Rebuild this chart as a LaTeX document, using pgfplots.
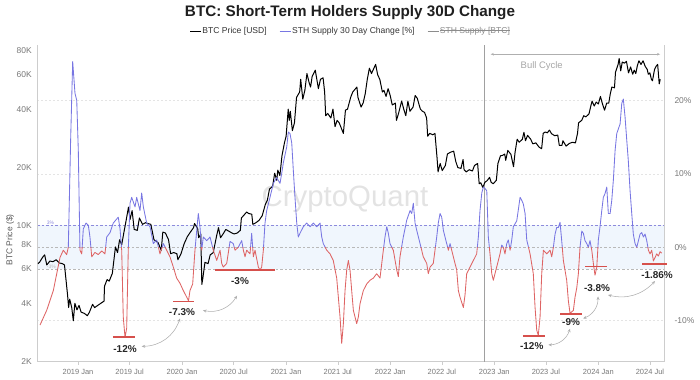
\documentclass[border=0pt]{standalone}
\usepackage{pgfplots}
\pgfplotsset{compat=1.18}
\usepackage{pgfplotstable}
\usepackage{fontspec}
\setmainfont{Liberation Sans}
\usetikzlibrary{arrows.meta}

\newcommand\strike[1]{{\setbox0\hbox{#1}\rlap{\rule[0.55ex]{\wd0}{0.5bp}}\box0}}

\definecolor{stpurple}{RGB}{120,118,226}
\definecolor{stred}{RGB}{222,100,100}
\definecolor{barred}{RGB}{214,80,76}
\definecolor{bandblue}{RGB}{240,246,253}
\definecolor{bandpurple}{RGB}{140,138,220}
\definecolor{bandgray}{RGB}{185,185,185}
\definecolor{gridgray}{RGB}{228,228,228}
\definecolor{axisgray}{RGB}{205,205,205}
\definecolor{ticktext}{RGB}{120,120,120}
\definecolor{arrowgray}{RGB}{175,175,175}
\definecolor{bullgray}{RGB}{160,160,160}

\pgfplotstableread{
t p
2018.615 6400
2018.63 6500
2018.66 6900
2018.68 7100
2018.70 6300
2018.73 6600
2018.76 6550
2018.79 6700
2018.82 6450
2018.85 6400
2018.87 6300
2018.88 5600
2018.90 4400
2018.91 3800
2018.92 4200
2018.94 3800
2018.955 3250
2018.97 4000
2018.99 3700
2019.01 3900
2019.03 3600
2019.06 3550
2019.09 3450
2019.11 3600
2019.14 3950
2019.16 3800
2019.19 3900
2019.22 4000
2019.25 4100
2019.255 4900
2019.28 5300
2019.30 5200
2019.33 5700
2019.36 7800
2019.38 7300
2019.40 8500
2019.42 8000
2019.44 9200
2019.46 10500
2019.485 12500
2019.50 10800
2019.52 12000
2019.54 9600
2019.57 9500
2019.59 11000
2019.62 10200
2019.65 10400
2019.67 10300
2019.70 10200
2019.73 8500
2019.77 8200
2019.80 7500
2019.815 9300
2019.84 9200
2019.87 8500
2019.89 7200
2019.92 7300
2019.95 7200
2019.96 6700
2019.99 7200
2020.02 8100
2020.05 8800
2020.08 9300
2020.11 9800
2020.12 10300
2020.15 9700
2020.16 8700
2020.18 9100
2020.19 5000
2020.20 5400
2020.22 6500
2020.25 6400
2020.27 7100
2020.30 7300
2020.33 8800
2020.35 9800
2020.37 8700
2020.40 9200
2020.42 9600
2020.45 9400
2020.48 9200
2020.50 9100
2020.53 9200
2020.56 9500
2020.57 11000
2020.59 11300
2020.62 11800
2020.64 11600
2020.67 11500
2020.68 10200
2020.71 10400
2020.74 10700
2020.77 11300
2020.80 12900
2020.82 13600
2020.84 15500
2020.87 16000
2020.89 18700
2020.91 17200
2020.92 19400
2020.94 18200
2020.96 23000
2020.985 27000
2021.00 29000
2021.02 40000
2021.03 35000
2021.04 39000
2021.06 31000
2021.08 34000
2021.10 46000
2021.13 49000
2021.14 57000
2021.16 45000
2021.18 50000
2021.20 61000
2021.22 55000
2021.235 52000
2021.25 59000
2021.28 63500
2021.31 51000
2021.33 57000
2021.355 58000
2021.37 49000
2021.38 37000
2021.40 38000
2021.43 36000
2021.45 40000
2021.47 32500
2021.49 35000
2021.51 34000
2021.55 30000
2021.57 39500
2021.59 40000
2021.62 46000
2021.64 49000
2021.68 52000
2021.69 46000
2021.72 41000
2021.74 43000
2021.76 48000
2021.78 57000
2021.80 65000
2021.82 61000
2021.86 68000
2021.88 60000
2021.90 57000
2021.925 49000
2021.94 50000
2021.96 46500
2021.98 51000
2022.00 47000
2022.02 42000
2022.05 43000
2022.06 35000
2022.08 38000
2022.11 44000
2022.13 40000
2022.15 37000
2022.17 44000
2022.19 39000
2022.22 41000
2022.24 47000
2022.26 45500
2022.29 40000
2022.31 39000
2022.33 38500
2022.35 36000
2022.36 29000
2022.38 30000
2022.41 29500
2022.43 30000
2022.45 22500
2022.46 19000
2022.48 21000
2022.50 19300
2022.53 20500
2022.55 23500
2022.58 24000
2022.61 24300
2022.63 21500
2022.65 20000
2022.68 19800
2022.70 22000
2022.71 19500
2022.73 19000
2022.76 19500
2022.79 19200
2022.81 20500
2022.84 21000
2022.855 16500
2022.87 16700
2022.89 15800
2022.91 16800
2022.93 17100
2022.955 17800
2022.97 16800
2022.99 16500
2023.02 17200
2023.035 21000
2023.06 23000
2023.08 23100
2023.10 23500
2023.11 21800
2023.13 24500
2023.16 23400
2023.185 20200
2023.20 24000
2023.22 28000
2023.24 27000
2023.27 28000
2023.285 30400
2023.30 27500
2023.32 29300
2023.35 28000
2023.37 26500
2023.40 26800
2023.43 25500
2023.455 25000
2023.47 30000
2023.49 30500
2023.51 30200
2023.53 31200
2023.55 29900
2023.58 29200
2023.61 29400
2023.625 26000
2023.65 26000
2023.66 27500
2023.69 25800
2023.72 26600
2023.75 27000
2023.78 26800
2023.80 30000
2023.81 34000
2023.84 35000
2023.86 37000
2023.88 36500
2023.91 37800
2023.93 42000
2023.94 44000
2023.96 41500
2023.98 43500
2024.00 42500
2024.02 46500
2024.04 42500
2024.06 39500
2024.08 43000
2024.10 43000
2024.115 48000
2024.13 52000
2024.155 51500
2024.165 62000
2024.19 68000
2024.20 73000
2024.215 63000
2024.23 70000
2024.25 69000
2024.27 70500
2024.29 61500
2024.31 66000
2024.33 60500
2024.345 63500
2024.36 61000
2024.375 67000
2024.39 71000
2024.41 68000
2024.43 71000
2024.45 66500
2024.47 64000
2024.48 60500
2024.495 61500
2024.51 57000
2024.52 56000
2024.54 64000
2024.555 66500
2024.57 68000
2024.585 54000
2024.595 57000
}\pricedata

\pgfplotstableread{
t v
2018.635 -10.6
2018.699 -8.6
2018.763 -5.9
2018.827 -1.4
2018.859 -0.4
2018.891 -1.0
2018.907 0
2018.930 15
2018.949 25.3
2018.971 21
2018.988 20
2019.003 13.2
2019.019 -0.4
2019.036 -0.9
2019.051 2.5
2019.077 3.3
2019.099 3.0
2019.115 1.4
2019.132 -1.3
2019.163 -0.7
2019.195 -1.0
2019.228 -0.5
2019.259 -0.9
2019.276 1.4
2019.308 2.0
2019.339 3.3
2019.387 4.1
2019.404 2.5
2019.420 -0.4
2019.435 -9.5
2019.452 -12.3
2019.468 -11
2019.483 -0.4
2019.500 6.0
2019.516 6.8
2019.548 5.5
2019.564 6.8
2019.596 5.0
2019.612 7.4
2019.628 5.5
2019.660 3.3
2019.692 2.8
2019.724 0.5
2019.756 1.0
2019.788 -0.9
2019.820 0.5
2019.852 -0.4
2019.884 -1.3
2019.916 -2.7
2019.948 -4.2
2019.980 -4.9
2020.012 -5.9
2020.045 -6.8
2020.062 -7.3
2020.076 -5.9
2020.102 -5.0
2020.124 -0.4
2020.141 2.3
2020.156 4.6
2020.172 2.8
2020.189 -0.4
2020.204 1.4
2020.237 0.9
2020.269 1.4
2020.300 -0.4
2020.333 -1.8
2020.365 -0.4
2020.381 -2.2
2020.396 -2.7
2020.429 -2.2
2020.461 0.8
2020.492 0.5
2020.509 -0.4
2020.540 0
2020.573 0.9
2020.589 -0.4
2020.605 -1.3
2020.621 -0.4
2020.653 -0.9
2020.669 1.9
2020.685 -1.3
2020.701 -0.4
2020.733 -2.7
2020.749 -3.1
2020.765 -2.7
2020.781 -0.4
2020.797 3.3
2020.813 5.0
2020.845 6.8
2020.877 8.7
2020.909 9.5
2020.941 8.7
2020.958 10.1
2020.973 11.5
2021.006 13.7
2021.021 15.7
2021.037 15.5
2021.054 14.2
2021.069 10.5
2021.085 6.8
2021.102 3.3
2021.117 1.4
2021.133 1.9
2021.165 2.8
2021.198 3.3
2021.230 2.8
2021.261 3.3
2021.294 2.8
2021.326 3.3
2021.342 1.4
2021.357 0.5
2021.390 -0.4
2021.422 -0.9
2021.453 -1.8
2021.486 -4.2
2021.518 -9.5
2021.534 -13.1
2021.550 -10.4
2021.566 -5.9
2021.582 -3.1
2021.598 -1.8
2021.614 -3.1
2021.630 -5.9
2021.646 -8.6
2021.678 -10.4
2021.694 -9.5
2021.710 -7.7
2021.742 -5.9
2021.774 -5.0
2021.806 -4.5
2021.838 -4.2
2021.870 -3.6
2021.902 -4.2
2021.934 -0.4
2021.950 1.4
2021.967 2.8
2021.982 1.9
2021.998 0.5
2022.030 -0.4
2022.063 -3.1
2022.078 -4.0
2022.094 -1.3
2022.126 1.4
2022.159 3.7
2022.191 5.0
2022.207 4.6
2022.222 6.0
2022.239 3.3
2022.255 2.3
2022.287 0.5
2022.318 -1.3
2022.351 -2.2
2022.366 -3.6
2022.383 -2.7
2022.414 -2.2
2022.447 1.4
2022.462 3.3
2022.479 4.6
2022.495 4.1
2022.511 2.3
2022.543 0.5
2022.559 -0.4
2022.575 0.5
2022.591 -0.4
2022.607 -1.3
2022.639 -3.1
2022.655 -5.9
2022.671 -6.8
2022.703 -8.2
2022.719 -6.5
2022.735 -3.6
2022.767 -2.7
2022.799 -1.8
2022.831 -0.9
2022.847 1.4
2022.863 5.0
2022.880 7.4
2022.895 8.2
2022.911 8.0
2022.928 7.7
2022.943 1.4
2022.959 -0.9
2022.976 -3.6
2022.991 -4.5
2023.007 -3.6
2023.039 -1.8
2023.055 -0.9
2023.072 0.3
2023.087 0
2023.103 -0.9
2023.120 0.5
2023.135 1.0
2023.152 -0.4
2023.168 1.0
2023.183 2.8
2023.216 3.6
2023.248 6.8
2023.264 6.4
2023.279 5.9
2023.296 4.6
2023.312 1.0
2023.344 -0.9
2023.375 -3.6
2023.392 -8.2
2023.408 -11.3
2023.423 -12.0
2023.440 -9.5
2023.456 -3.6
2023.472 -0.4
2023.504 -0.9
2023.536 -0.4
2023.552 -1.3
2023.568 0
2023.584 1.8
2023.600 2.7
2023.616 2.7
2023.632 3.4
2023.648 0.9
2023.664 -1.8
2023.696 -4.5
2023.712 -7.3
2023.728 -9.0
2023.760 -8.6
2023.776 -6.8
2023.793 -5.5
2023.808 -3.6
2023.824 0
2023.841 2.2
2023.856 1.9
2023.872 0.9
2023.889 0.5
2023.904 0
2023.920 0.9
2023.937 -0.4
2023.952 -2.2
2023.968 -3.8
2023.985 -2.7
2024.000 1.0
2024.016 2.8
2024.033 5.0
2024.048 6.8
2024.064 7.3
2024.081 8.2
2024.096 4.6
2024.113 4.6
2024.129 6.4
2024.144 9.1
2024.161 13.2
2024.177 15.5
2024.209 16.8
2024.225 19.6
2024.240 20.2
2024.257 17.7
2024.273 14.6
2024.288 11.8
2024.305 7.7
2024.321 4.6
2024.336 1.8
2024.353 0.5
2024.369 0
2024.385 0.9
2024.401 1.8
2024.417 2.0
2024.433 1.4
2024.449 1.8
2024.465 0.9
2024.481 -0.4
2024.497 -0.9
2024.513 -0.4
2024.529 -1.86
2024.545 -1.4
2024.561 -0.9
2024.577 -1.2
2024.593 -0.6
2024.609 -0.8
}\sthdata

\pgfplotsset{
  base/.style={scale only axis, width=626.7bp, height=316.7bp,
    at={(0bp,0bp)}, anchor=south west, xmin=2018.609, xmax=2024.631},
}

\begin{document}
\begin{tikzpicture}
\path[use as bounding box] (-37.3bp,-18.3bp) rectangle (662.7bp,361.7bp);

% watermark
\node[text=black!11, font=\fontsize{29.5}{32}\selectfont] at (307.7bp,162bp) {CryptoQuant};

% background axis: percent scale, band, grid, x ticks
\begin{axis}[base, ymin=-15.59, ymax=27.56,
  axis y line*=right, axis x line*=bottom,
  axis line style={draw=axisgray, line width=0.7bp, -},
  ytick={-10,0,10,20}, yticklabels={-10\%,0\%,10\%,20\%},
  ymajorgrids, grid style={gridgray, dash pattern=on 2bp off 2bp, line width=0.5bp},
  xtick={2019,2019.496,2020,2020.496,2021,2021.496,2022,2022.496,2023,2023.496,2024,2024.496},
  xticklabels={2019 Jan,2019 Jul,2020 Jan,2020 Jul,2021 Jan,2021 Jul,2022 Jan,2022 Jul,2023 Jan,2023 Jul,2024 Jan,2024 Jul},
  tick label style={font=\fontsize{7.5}{9}\selectfont, text=ticktext},
  yticklabel style={font=\fontsize{8.5}{10}\selectfont, xshift=4bp},
  ytick style={draw=none}, xtick style={draw=axisgray, line width=0.5bp},
  major tick length=3bp, tick align=outside,
  xticklabel style={yshift=-1bp},
]
\fill[bandblue] (axis cs:2018.609,-3) rectangle (axis cs:2024.631,3);
\draw[bandpurple, line width=0.6bp, dash pattern=on 2.5bp off 2bp] (axis cs:2018.609,3) -- (axis cs:2024.631,3);
\draw[bandgray, line width=0.6bp, dash pattern=on 2.5bp off 2bp] (axis cs:2018.609,0) -- (axis cs:2024.631,0);
\draw[bandgray, line width=0.6bp, dash pattern=on 2.5bp off 2bp] (axis cs:2018.609,-3) -- (axis cs:2024.631,-3);
\node[text=bandpurple, font=\fontsize{5}{6}\selectfont, anchor=south west, inner sep=1bp] at (axis cs:2018.69,3) {3\%};
\node[text=bandgray, font=\fontsize{5}{6}\selectfont, anchor=south west, inner sep=1bp] at (axis cs:2018.69,-3) {-3\%};
% bull cycle
\draw[bullgray, line width=0.7bp] (axis cs:2022.905,-15.59) -- (axis cs:2022.905,27.56);
\draw[arrowgray, line width=0.5bp, {Stealth[length=3bp,width=2.5bp]}-{Stealth[length=3bp,width=2.5bp]}] (axis cs:2022.966,26.3) -- (axis cs:2024.593,26.3);
\node[text=black!35, font=\fontsize{9.5}{11}\selectfont] at (axis cs:2023.456,24.7) {Bull Cycle};
\end{axis}

% price axis
\begin{axis}[base, ymode=log, ymin=2000, ymax=85600,
  axis y line*=left, hide x axis,
  axis line style={draw=axisgray, line width=0.7bp, -},
  ytick={2000,4000,6000,8000,10000,20000,40000,60000,80000},
  yticklabels={2K,4K,6K,8K,10K,20K,40K,60K,80K},
  minor ytick={}, tick style={draw=none},
  yticklabel style={font=\fontsize{8.5}{10}\selectfont, text=ticktext, xshift=-2bp},
]
\addplot[black, line width=1bp, line join=round] table[x=t, y=p] {\pricedata};
\end{axis}

% STH above zero (purple): axis box covers 0..27.56 only, so the line is clipped at 0
\begin{axis}[scale only axis, width=626.7bp, height=202.27bp,
  at={(0bp,114.43bp)}, anchor=south west, xmin=2018.609, xmax=2024.631,
  ymin=0, ymax=27.56, hide axis]
\addplot[stpurple, line width=0.85bp, line join=round] table[x=t, y=v] {\sthdata};
\end{axis}
% STH below zero (red): axis box covers -15.59..0 only
\begin{axis}[scale only axis, width=626.7bp, height=114.43bp,
  at={(0bp,0bp)}, anchor=south west, xmin=2018.609, xmax=2024.631,
  ymin=-15.59, ymax=0, hide axis]
\addplot[stred, line width=0.85bp, line join=round] table[x=t, y=v] {\sthdata};
\end{axis}

% annotations
\begin{axis}[base, ymin=-15.59, ymax=27.56, hide axis, clip=false]
\tikzset{bar/.style={barred, line width=1.6bp},
  lab/.style={font=\bfseries\fontsize{10}{11}\selectfont, text=black!85},
  arr/.style={arrowgray, line width=0.55bp, {Stealth[length=3.5bp,width=3bp]}-{Stealth[length=3.5bp,width=3bp]}}}

\draw[bar] (axis cs:2019.336,-12.2) -- (axis cs:2019.548,-12.2);
\node[lab] at (axis cs:2019.452,-13.8) {-12\%};
\draw[arr] (axis cs:2019.612,-13.5) to[bend right=35] (axis cs:2019.980,-9.7);

\draw[bar] (axis cs:2019.913,-7.4) -- (axis cs:2020.115,-7.4);
\node[lab] at (axis cs:2019.999,-8.8) {-7.3\%};
\draw[arr] (axis cs:2020.201,-8.6) to[bend right=35] (axis cs:2020.528,-6.6);

\draw[bar] (axis cs:2020.317,-3.1) -- (axis cs:2020.893,-3.1);
\node[lab] at (axis cs:2020.557,-4.6) {-3\%};

\draw[bar] (axis cs:2023.276,-12.1) -- (axis cs:2023.488,-12.1);
\node[lab] at (axis cs:2023.360,-13.5) {-12\%};
\draw[arr] (axis cs:2023.520,-13.3) to[bend right=35] (axis cs:2023.728,-11.1);

\draw[bar] (axis cs:2023.632,-9.1) -- (axis cs:2023.843,-9.1);
\node[lab] at (axis cs:2023.738,-10.2) {-9\%};
\draw[arr] (axis cs:2023.853,-9.7) to[bend right=35] (axis cs:2023.997,-6.7);

\draw[bar] (axis cs:2023.872,-2.6) -- (axis cs:2024.083,-2.6);
\node[lab] at (axis cs:2023.988,-5.5) {-3.8\%};
\draw[arr] (axis cs:2024.093,-6.5) to[bend right=30] (axis cs:2024.545,-4.6);

\draw[bar] (axis cs:2024.420,-2.3) -- (axis cs:2024.660,-2.3);
\node[lab] at (axis cs:2024.564,-3.8) {-1.86\%};
\end{axis}

% title, legend, y label
\node[font=\bfseries\fontsize{15.3}{18}\selectfont, text=black!88] at (312.7bp,349.3bp) {BTC: Short-Term Holders Supply 30D Change};
\node[font=\fontsize{8.6}{10}\selectfont, text=black!80] at (312.7bp,330.7bp) {%
  {\color{black}\rule[0.3ex]{11bp}{0.9bp}}\,BTC Price [USD]\hspace{13bp}%
  {\color{stpurple}\rule[0.3ex]{11bp}{0.9bp}}\,STH Supply 30 Day Change [\%]\hspace{13bp}%
  {\color{black!45}\rule[0.3ex]{11bp}{0.9bp}}\,{\color{black!45}\strike{STH Supply [BTC]}}};
\node[rotate=90, font=\fontsize{8.5}{10}\selectfont, text=black!65] at (-27.3bp,121.7bp) {BTC Price (\$)};
\end{tikzpicture}
\end{document}
